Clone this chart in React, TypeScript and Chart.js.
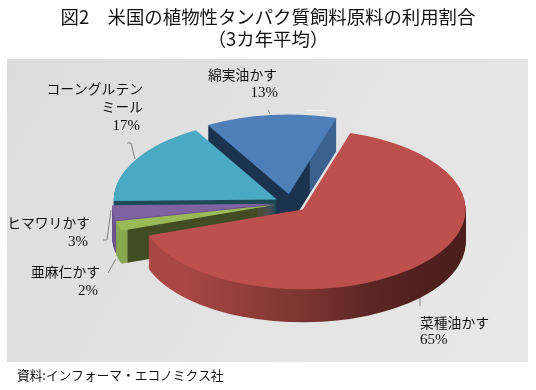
import React, { useEffect, useRef } from "react";
import { Chart, registerables } from "chart.js";

Chart.register(...registerables);

const categories = ["菜種油かす", "亜麻仁かす", "ヒマワリかす", "コーングルテン\nミール", "綿実油かす"];
const shares = [65, 2, 3, 17, 13];
const titleLines = ["図2　米国の植物性タンパク質飼料原料の利用割合", "（3カ年平均）"];
const sourceNote = "資料:インフォーマ・エコノミクス社";

const topColors = ["#bd504c", "#9aba58", "#7f63a0", "#4aaac4", "#4f7fb9"];
const explode = [19, 14, 14, 14, 20];
const nudgeX = [0, 0, 0, 0, 2];
const nudgeY = [0, 0, 0, 0, 1];
const drawOrder = [4, 3, 2, 1, 0];

const RADIUS = 163;
const SQUASH = 0.49;
const DEPTH = 33;
const CX = 289;
const CY = 203;

const JP = '"Noto Sans CJK JP", "Noto Sans", sans-serif';
const SERIF = '"Liberation Serif", serif';

// name x, name y (centre of first line), percent right/left x, percent y, alignment
const labelPlace: [number, number, number, number, CanvasTextAlign][] = [
  [420, 323, 420, 340, "left"],
  [100, 272, 98, 291, "right"],
  [90, 223, 88, 242, "right"],
  [143, 89, 140, 126, "right"],
  [277, 75, 278, 93, "right"],
];
const leaders: number[][][] = [
  [[420, 298], [420, 306]],
  [[108, 273], [116, 259]],
  [[103, 240], [107, 240], [111, 210]],
  [[127, 143], [131, 143], [135, 159]],
  [[268, 110], [270, 114]],
];

function wallFill(ctx: CanvasRenderingContext2D, i: number): CanvasGradient | string {
  const g = ctx.createLinearGradient(100, 0, 500, 0);
  const stop = (x: number, c: string) => g.addColorStop((x - 100) / 400, c);
  if (i === 0) {
    stop(150, "#a84743");
    stop(270, "#7b3431");
    stop(340, "#5a2523");
    stop(410, "#4c1e1c");
    stop(470, "#4a1e1c");
    return g;
  }
  if (i === 1) {
    stop(119.5, "#8aa850");
    stop(120.5, "#424c22");
    return g;
  }
  if (i === 2) return "#6d5490";
  if (i === 3) return "#1f4a55";
  stop(288.5, "#1c3350");
  stop(289.5, "#3a6190");
  return g;
}

const pie3d = {
  id: "pie3d",
  beforeDraw(chart: any) {
    const { ctx, width, height } = chart;
    ctx.save();
    ctx.fillStyle = "#ffffff";
    ctx.fillRect(0, 0, width, height);
    const g = ctx.createLinearGradient(7, 59, 528, 362);
    g.addColorStop(0, "#dcdcdc");
    g.addColorStop(0.6, "#e4e4e4");
    g.addColorStop(1, "#e8e8e8");
    ctx.fillStyle = g;
    ctx.fillRect(7, 59, 521, 303);
    ctx.restore();
  },
  beforeDatasetDraw(chart: any) {
    const { ctx, chartArea } = chart;
    const meta = chart.getDatasetMeta(0);
    const x0 = (chartArea.left + chartArea.right) / 2;
    const y0 = (chartArea.top + chartArea.bottom) / 2;
    for (const i of drawOrder) {
      const arc = meta.data[i];
      const mid = (arc.startAngle + arc.endAngle) / 2;
      const base = arc.options;
      const wall = wallFill(ctx, i);
      for (let d = DEPTH; d >= 0; d--) {
        ctx.save();
        ctx.translate(CX - x0 + nudgeX[i], CY + d + nudgeY[i]);
        ctx.scale(1, SQUASH);
        ctx.translate(0, -y0);
        ctx.translate(Math.cos(mid) * explode[i], Math.sin(mid) * explode[i]);
        arc.options = { ...base, backgroundColor: d === 0 ? topColors[i] : wall };
        arc.draw(ctx);
        ctx.restore();
      }
      arc.options = base;
    }
    return false;
  },
  afterDraw(chart: any) {
    const { ctx } = chart;
    ctx.save();
    ctx.strokeStyle = "#7f7f7f";
    ctx.lineWidth = 1;
    for (const pts of leaders) {
      ctx.beginPath();
      pts.forEach(([x, y], k) => (k ? ctx.lineTo(x, y) : ctx.moveTo(x, y)));
      ctx.stroke();
    }
    ctx.strokeStyle = "#f2f2f2";
    ctx.beginPath();
    ctx.moveTo(306, 110.5);
    ctx.lineTo(326, 110.5);
    ctx.stroke();
    ctx.fillStyle = "#111111";
    ctx.textBaseline = "middle";
    categories.forEach((name, i) => {
      const [x, y, px, py, align] = labelPlace[i];
      ctx.textAlign = align;
      ctx.font = `13.8px ${JP}`;
      name.split("\n").forEach((t, k) => ctx.fillText(t, x, y + k * 18));
      ctx.font = `15px ${SERIF}`;
      ctx.fillText(`${shares[i]}%`, px, py);
    });
    ctx.textAlign = "left";
    ctx.font = `12.7px ${JP}`;
    ctx.fillText(sourceNote, 17, 375);
    ctx.restore();
  },
};

export default function App() {
  const ref = useRef<HTMLCanvasElement | null>(null);
  useEffect(() => {
    const chart = new Chart(ref.current as HTMLCanvasElement, {
      type: "pie",
      data: {
        labels: categories,
        datasets: [
          {
            data: shares,
            backgroundColor: topColors,
            borderWidth: 0,
            radius: RADIUS,
            rotation: 17,
            clip: false,
          } as any,
        ],
      },
      options: {
        animation: false,
        responsive: false,
        layout: { padding: 0 },
        plugins: {
          legend: { display: false },
          tooltip: { enabled: false },
          title: {
            display: true,
            text: titleLines,
            color: "#111111",
            font: { family: JP, size: 18.4, weight: "normal", lineHeight: 1.2 },
            padding: { top: 6, bottom: 4 },
          },
        },
      },
      plugins: [pie3d as any],
    });
    return () => chart.destroy();
  }, []);
  return (
    <div style={{ position: "fixed", left: 0, top: 0, width: 536, height: 390 }}>
      <canvas ref={ref} width={536} height={390} style={{ display: "block" }} />
    </div>
  );
}
